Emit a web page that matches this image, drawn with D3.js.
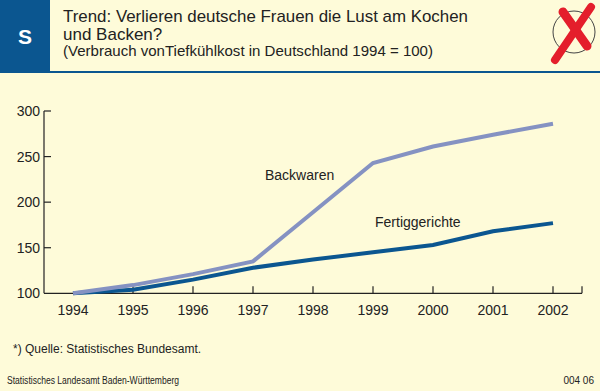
<!DOCTYPE html>
<html>
<head>
<meta charset="utf-8">
<script src="https://cdn.jsdelivr.net/npm/d3@7"></script>
<style>
  body { margin: 0; background: #fefbd9; }
  svg { display: block; font-family: "Liberation Sans", Arial, sans-serif; }
</style>
</head>
<body>
<div id="chart"></div>
<script>
// data (index, 1994 = 100)
const years = [1994, 1995, 1996, 1997, 1998, 1999, 2000, 2001, 2002];
const backwaren = [100, 109, 121, 135, 189, 243, 261, 274, 286];
const fertiggerichte = [100, 104, 115, 128, 137, 145, 153, 168, 177];
const yTicks = [100, 150, 200, 250, 300];

const W = 600, H = 391;
const blue = "#0b5690";

const svg = d3.select("#chart").append("svg")
    .attr("width", W)
    .attr("height", H);

svg.append("rect").attr("width", W).attr("height", H).attr("fill", "#fefbd9");

// header
svg.append("rect").attr("x", 0).attr("y", 0).attr("width", 50).attr("height", 72).attr("fill", blue);
svg.append("rect").attr("x", 0).attr("y", 71).attr("width", W).attr("height", 2).attr("fill", blue);
svg.append("text")
    .attr("x", 25).attr("y", 44)
    .attr("text-anchor", "middle")
    .attr("fill", "#fff")
    .style("font-size", "21px")
    .style("font-weight", "bold")
    .text("S");

const title = svg.append("g").attr("fill", "#222");
title.append("text").attr("x", 63).attr("y", 22).style("font-size", "17px")
    .attr("textLength", 405).attr("lengthAdjust", "spacingAndGlyphs")
    .text("Trend: Verlieren deutsche Frauen die Lust am Kochen");
title.append("text").attr("x", 63).attr("y", 40).style("font-size", "17px")
    .text("und Backen?");
title.append("text").attr("x", 63).attr("y", 56).style("font-size", "14.5px")
    .attr("textLength", 370).attr("lengthAdjust", "spacingAndGlyphs")
    .text("(Verbrauch vonTiefkühlkost in Deutschland 1994 = 100)");

// crossed-out icon
const icon = svg.append("g");
icon.append("circle").attr("cx", 574).attr("cy", 32).attr("r", 21)
    .attr("fill", "none").attr("stroke", "#444").attr("stroke-width", 1);
icon.append("line").attr("x1", 563).attr("y1", 12).attr("x2", 587).attr("y2", 46)
    .attr("stroke", "#e41e2b").attr("stroke-width", 9).attr("stroke-linecap", "round");
icon.append("line").attr("x1", 591).attr("y1", 7).attr("x2", 555).attr("y2", 60)
    .attr("stroke", "#e41e2b").attr("stroke-width", 8).attr("stroke-linecap", "round");

// scales
const x = d3.scaleLinear().domain([1994, 2002]).range([73, 553]);
const y = d3.scaleLinear().domain([100, 300]).range([293.3, 111]);
const axisLeftX = 44, axisRightX = 582;

const axes = svg.append("g").attr("stroke", "#222").attr("stroke-width", 1.2);
axes.append("line").attr("x1", axisLeftX).attr("x2", axisLeftX)
    .attr("y1", y(300)).attr("y2", y(100));
axes.append("line").attr("x1", axisLeftX).attr("x2", axisRightX)
    .attr("y1", y(100)).attr("y2", y(100));
axes.selectAll(".yt").data(yTicks.slice(1)).enter().append("line")
    .attr("x1", axisLeftX).attr("x2", axisLeftX + 7)
    .attr("y1", d => y(d)).attr("y2", d => y(d));
axes.selectAll(".xt").data(years.slice(1)).enter().append("line")
    .attr("x1", d => x(d)).attr("x2", d => x(d))
    .attr("y1", y(100)).attr("y2", y(100) - 7);
axes.append("line").attr("x1", axisRightX).attr("x2", axisRightX)
    .attr("y1", y(100)).attr("y2", y(100) - 7);

svg.append("g").selectAll("text").data(yTicks).enter().append("text")
    .attr("x", 40).attr("y", d => y(d) + 5)
    .attr("text-anchor", "end")
    .attr("fill", "#222")
    .style("font-size", "14px")
    .text(d => d);

svg.append("g").selectAll("text").data(years).enter().append("text")
    .attr("x", d => x(d)).attr("y", 315)
    .attr("text-anchor", "middle")
    .attr("fill", "#222")
    .style("font-size", "14px")
    .text(d => d);

// lines
const line = d3.line().x((d, i) => x(years[i])).y(d => y(d));

svg.append("path").datum(fertiggerichte)
    .attr("d", line)
    .attr("fill", "none")
    .attr("stroke", blue)
    .attr("stroke-width", 4);

svg.append("path").datum(backwaren)
    .attr("d", line)
    .attr("fill", "none")
    .attr("stroke", "#8592c2")
    .attr("stroke-width", 4);

svg.append("text").attr("x", 265).attr("y", 180)
    .attr("fill", "#222").style("font-size", "14px").text("Backwaren");
svg.append("text").attr("x", 375).attr("y", 227)
    .attr("fill", "#222").style("font-size", "14px").text("Fertiggerichte");

// footer
svg.append("text").attr("x", 13).attr("y", 353)
    .attr("fill", "#222").style("font-size", "12px")
    .text("*) Quelle: Statistisches Bundesamt.");
svg.append("text").attr("x", 7).attr("y", 384)
    .attr("fill", "#222").style("font-size", "10px")
    .attr("textLength", 172).attr("lengthAdjust", "spacingAndGlyphs")
    .text("Statistisches Landesamt Baden-Württemberg");
svg.append("text").attr("x", 594).attr("y", 384)
    .attr("text-anchor", "end")
    .attr("fill", "#222").style("font-size", "10px")
    .text("004 06");
</script>
</body>
</html>
